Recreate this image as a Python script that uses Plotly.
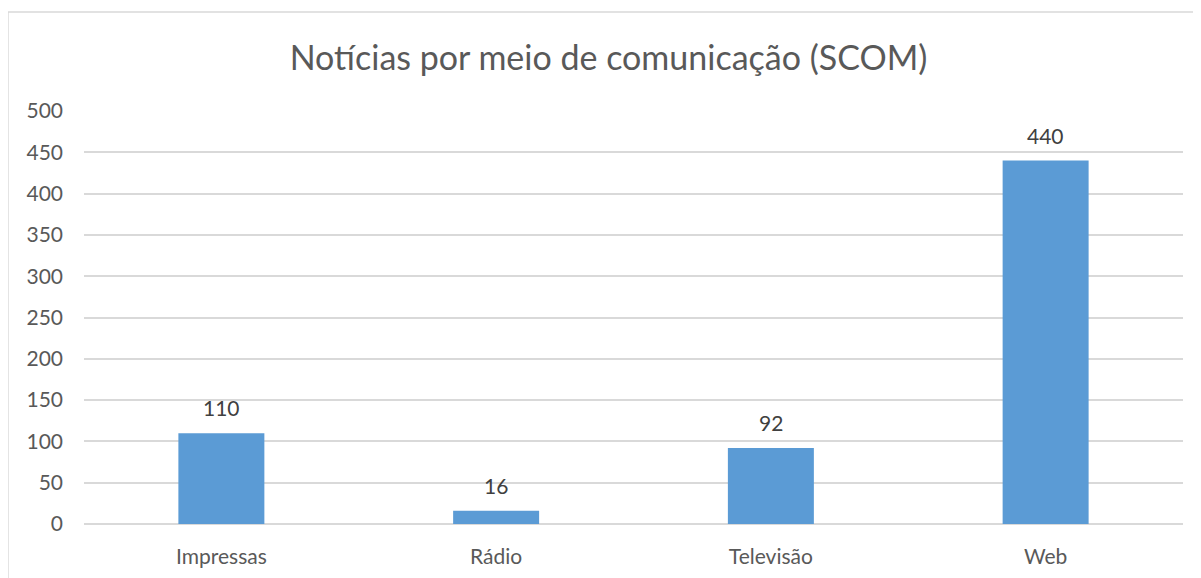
import plotly.graph_objects as go

# ── Dados ─────────────────────────────────────────────────────────────────────
categorias = ['Impressas', 'Rádio', 'Televisão', 'Web']
noticias = [110, 16, 92, 440]
y_ticks = [0, 50, 100, 150, 200, 250, 300, 350, 400, 450, 500]

COR_BARRA = '#5B9BD5'
COR_GRID = '#D9D9D9'
COR_TEXTO = '#595959'
FONTE = 'Lato, "Open Sans", sans-serif'

fig = go.Figure()
fig.add_trace(go.Bar(
    x=categorias, y=noticias,
    marker=dict(color=COR_BARRA, line=dict(width=0)),
    width=0.313,
    hoverinfo='x+y',
))

# rótulos de dados acima das barras
for cat, val in zip(categorias, noticias):
    fig.add_annotation(
        x=cat, y=val, text=str(val), showarrow=False,
        yanchor='bottom', yshift=11,
        font=dict(family=FONTE, size=21, color='#404040'),
    )

# moldura do gráfico (estilo Excel)
fig.add_shape(
    type='rect', xref='paper', yref='paper',
    x0=-0.0692, x1=1.05, y0=-0.2, y1=1.2397,
    line=dict(color=COR_GRID, width=1.5), fillcolor='rgba(0,0,0,0)',
    layer='below',
)

fig.update_layout(
    width=1201, height=578,
    paper_bgcolor='white', plot_bgcolor='white',
    margin=dict(l=76, r=26, t=103, b=62),
    font=dict(family=FONTE, size=21, color=COR_TEXTO),
    title=dict(
        text='Notícias por meio de comunicação (SCOM)',
        x=0.5, xanchor='center', y=1 - 50 / 578, yanchor='middle',
        font=dict(family=FONTE, size=34, color=COR_TEXTO),
    ),
    showlegend=False,
    bargap=0.687,
    xaxis=dict(
        showgrid=False, zeroline=False, showline=False,
        ticks='', ticklabelstandoff=18,
        tickfont=dict(size=21, color=COR_TEXTO),
    ),
    yaxis=dict(
        range=[0, 500], tickvals=y_ticks,
        showgrid=True, gridcolor=COR_GRID, gridwidth=1.5,
        zeroline=True, zerolinecolor=COR_GRID, zerolinewidth=1.5,
        showline=False, ticks='', ticklabelstandoff=20,
        tickfont=dict(size=21, color=COR_TEXTO),
    ),
)

fig.write_html("out.html")
